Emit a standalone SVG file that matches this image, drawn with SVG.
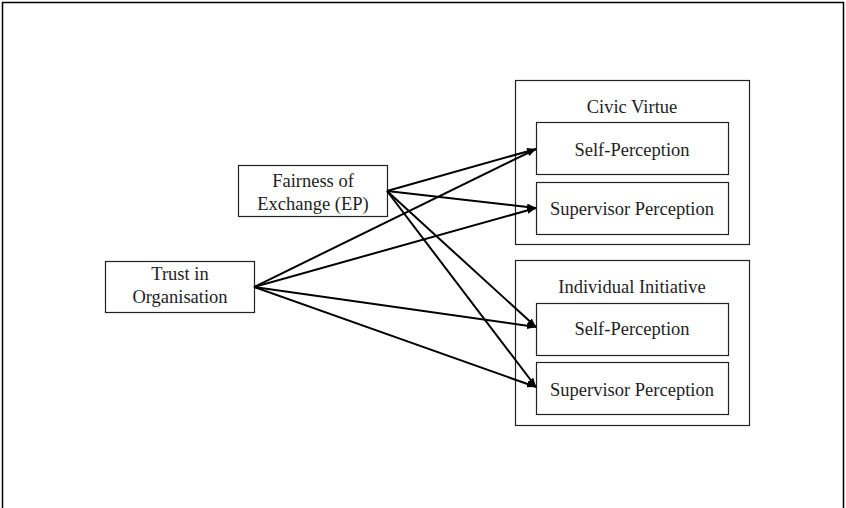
<svg xmlns="http://www.w3.org/2000/svg" width="846" height="508" viewBox="0 0 846 508">
  <defs>
    <style>
      .box { fill: #ffffff; stroke: #222222; stroke-width: 1.2; }
      .frame { fill: none; stroke: #000000; stroke-width: 1.5; }
      .lbl { font-family: "Liberation Serif", "Times New Roman", serif; font-size: 18.5px; fill: #1e1e1e; text-anchor: middle; }
      .conn { stroke: #000000; stroke-width: 2; fill: none; marker-end: url(#arrow); }
    </style>
    <marker id="arrow" markerUnits="userSpaceOnUse" markerWidth="10" markerHeight="8" refX="9" refY="3.5" orient="auto">
      <path d="M0,0 L9,3.5 L0,7 z" fill="#000000"/>
    </marker>
  </defs>
  <rect width="846" height="508" fill="#ffffff"/>
  <path class="frame" d="M2.5,510 L2.5,2.5 L843.5,2.5 L843.5,510"/>

  <g id="fairness">
    <rect class="box" x="238.5" y="165.5" width="149" height="51"/>
    <text class="lbl" x="313" y="187">Fairness of</text>
    <text class="lbl" x="313" y="210">Exchange (EP)</text>
  </g>

  <g id="trust">
    <rect class="box" x="105.5" y="261.5" width="149" height="51"/>
    <text class="lbl" x="180" y="280">Trust in</text>
    <text class="lbl" x="180" y="303">Organisation</text>
  </g>

  <g id="civic-virtue">
    <rect class="box" x="515.5" y="80.5" width="234" height="164"/>
    <text class="lbl" x="632" y="113">Civic Virtue</text>
  </g>
  <g id="cv-self">
    <rect class="box" x="536.5" y="122.5" width="192" height="52"/>
    <text class="lbl" x="632" y="156">Self-Perception</text>
  </g>
  <g id="cv-supervisor">
    <rect class="box" x="536.5" y="182.5" width="192" height="52"/>
    <text class="lbl" x="632" y="215">Supervisor Perception</text>
  </g>

  <g id="individual-initiative">
    <rect class="box" x="515.5" y="260.5" width="234" height="165"/>
    <text class="lbl" x="632" y="293">Individual Initiative</text>
  </g>
  <g id="ii-self">
    <rect class="box" x="536.5" y="303.5" width="192" height="52"/>
    <text class="lbl" x="632" y="335">Self-Perception</text>
  </g>
  <g id="ii-supervisor">
    <rect class="box" x="536.5" y="362.5" width="192" height="52"/>
    <text class="lbl" x="632" y="395.5">Supervisor Perception</text>
  </g>

  <g id="connectors">
    <line class="conn" x1="387" y1="191" x2="536" y2="149"/>
    <line class="conn" x1="387" y1="191" x2="536" y2="208"/>
    <line class="conn" x1="387" y1="191" x2="536" y2="327"/>
    <line class="conn" x1="387" y1="191" x2="536" y2="387"/>
    <line class="conn" x1="254" y1="287" x2="536" y2="149"/>
    <line class="conn" x1="254" y1="287" x2="536" y2="208"/>
    <line class="conn" x1="254" y1="287" x2="536" y2="327"/>
    <line class="conn" x1="254" y1="287" x2="536" y2="387"/>
  </g>
</svg>
